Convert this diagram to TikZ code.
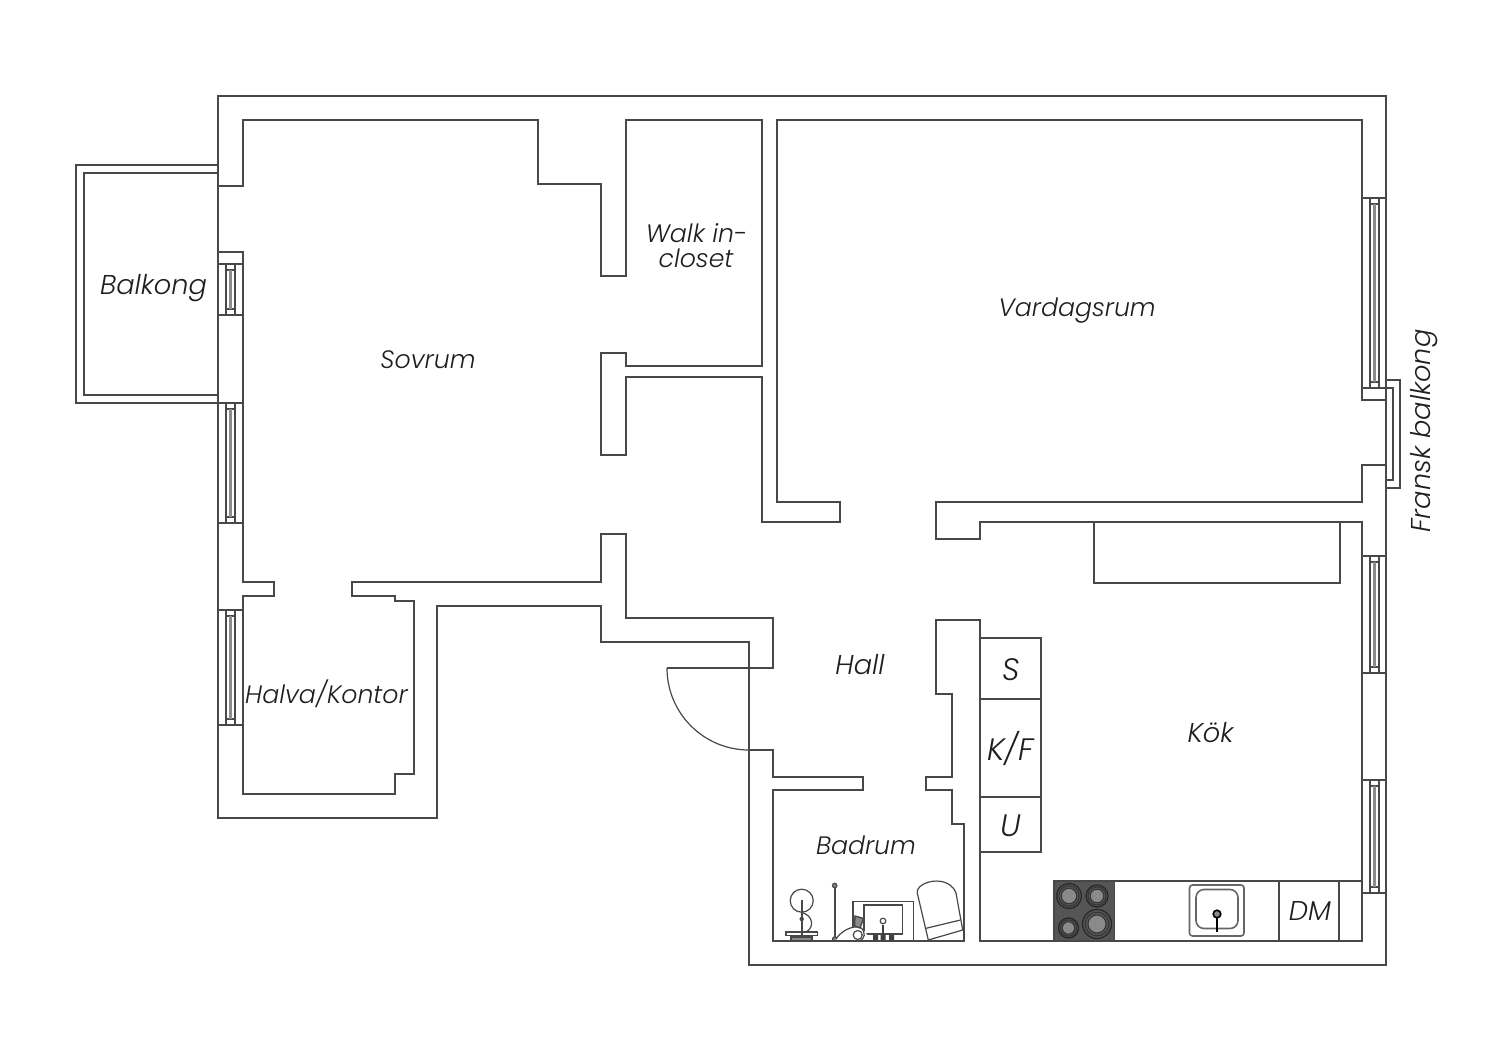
\documentclass[tikz,border=0pt]{standalone}
\usepackage{fontspec}
\setmainfont{Poppins}[ItalicFont=* Light Italic]
\definecolor{wallc}{HTML}{484848}
\definecolor{hobc}{HTML}{555555}
\definecolor{burnc}{HTML}{8A8A8A}
\definecolor{glassc}{HTML}{8C8C8C}
\tikzset{
  wall/.style={draw=wallc,line width=0.68pt,line join=miter},
  thin wall/.style={draw=wallc,line width=0.6pt},
  room/.style={text=black!88,font=\itshape\fontsize{12.6}{13}\selectfont,inner sep=0pt},
  room big/.style={room,font=\itshape\fontsize{13.6}{14}\selectfont},
  room large/.style={room,font=\itshape\fontsize{15.5}{16}\selectfont},
}
\newcommand\wndw[3]{%
  \draw[wall] (#1,#2) -- ++(24.5,0) (#1,#3) -- ++(24.5,0);
  \draw[thin wall] (#1+8,#2) -- (#1+8,#3) (#1+17,#2) -- (#1+17,#3)
     (#1+8,#2+6) -- (#1+17,#2+6) (#1+8,#3-6) -- (#1+17,#3-6);
  \fill[glassc] (#1+11,#2+6) rectangle (#1+14,#3-6);
}
\newcommand\burner[3]{%
  \draw[draw=black!85,fill=hobc,line width=0.6pt] (#1,#2) circle (#3);
  \draw[draw=black!80,line width=0.5pt] (#1,#2) circle (#3*0.82);
  \draw[draw=black!80,fill=burnc,line width=0.5pt] (#1,#2) circle (#3*0.62);
}
\begin{document}
\begin{tikzpicture}[x=0.5pt,y=-0.5pt]
\fill[white] (0,0) rectangle (1500,1060);
\useasboundingbox (0,0) rectangle (1500,1060);
% outer walls
\draw[wall] (218,96) -- (1386,96) -- (1386,965) -- (749,965) -- (749,642) -- (601,642) -- (601,606) -- (437,606) -- (437,818) -- (218,818) -- cycle;
% balcony
\draw[wall] (218,165) -- (76,165) -- (76,403) -- (218,403);
\draw[wall] (218,173) -- (84,173) -- (84,395) -- (218,395);
% inner walls
\draw[wall] (218,186) -- (243,186) -- (243,120) -- (538,120) -- (538,184) -- (601,184) -- (601,276) -- (626,276) -- (626,120) -- (762,120) -- (762,366) -- (626,366) -- (626,353) -- (601,353) -- (601,455) -- (626,455) -- (626,377) -- (762,377) -- (762,522) -- (840,522) -- (840,502) -- (777,502) -- (777,120) -- (1362,120) -- (1362,400) -- (1386,400);
\draw[wall] (1386,465) -- (1362,465) -- (1362,502) -- (936,502) -- (936,539) -- (980,539) -- (980,522) -- (1362,522) -- (1362,941) -- (980,941) -- (980,620) -- (936,620) -- (936,694) -- (952,694) -- (952,777) -- (926,777) -- (926,790) -- (952,790) -- (952,824) -- (964,824) -- (964,941) -- (773,941) -- (773,790) -- (863,790) -- (863,777) -- (773,777) -- (773,750) -- (749,750);
\draw[wall] (218,252) -- (243,252) -- (243,582) -- (274,582) -- (274,596) -- (243,596) -- (243,794) -- (395,794) -- (395,774) -- (414,774) -- (414,601) -- (395,601) -- (395,596) -- (352,596) -- (352,582) -- (601,582) -- (601,534) -- (626,534) -- (626,618) -- (773,618) -- (773,668) -- (667,668);
% door swing
\draw[thin wall] (667,668) arc[start angle=180,end angle=270,x radius=82,y radius=-82];
% windows
\wndw{218}{264}{315}
\wndw{218}{403}{523}
\wndw{218}{610}{725}
\wndw{1362}{198}{388}
\wndw{1362}{556}{673}
\wndw{1362}{780}{893}
% french balcony
\draw[wall] (1386,380) -- (1400,380) -- (1400,488) -- (1386,488);
\draw[wall] (1386,388) -- (1393,388) -- (1393,480) -- (1386,480);
% kitchen storage box
\draw[wall] (1094,522) -- (1094,583) -- (1340,583) -- (1340,522);
% cabinets
\draw[wall] (980,638) -- (1041,638) -- (1041,852) -- (980,852);
\draw[wall] (980,699) -- (1041,699) (980,797) -- (1041,797);
% counter
\draw[wall] (1054,881) -- (1362,881);
\draw[wall] (1279,881) -- (1279,941) (1339,881) -- (1339,941);
\fill[hobc] (1054,881) rectangle (1114.5,941);
\draw[wall] (1054,881) rectangle (1114.5,941);
\burner{1069}{896}{12.5}
\burner{1097}{896}{11}
\burner{1068.5}{928}{10}
\burner{1097}{924}{14.5}
% sink
\draw[draw=black!60,line width=0.8pt,rounded corners=1.5pt] (1189.5,885) rectangle (1244,936);
\draw[draw=black!60,line width=0.8pt,rounded corners=4pt] (1196,889.5) rectangle (1238,928.5);
\draw[black,line width=1pt] (1217,914) -- (1217,932);
\draw[draw=black,fill=burnc,line width=0.8pt] (1217,914) circle (3.8);
% bathroom: shower
\draw[thin wall] (801.7,900.7) circle (11.5);
\draw[draw=wallc,line width=1.2pt] (801.7,900) -- (801.7,941);
\draw[thin wall] (802,912.5) .. controls (814,916) and (814,928) .. (806,932);
\fill[wallc] (801.7,919) circle (2.2);
\draw[thin wall] (786,932) rectangle (817.5,935.5);
\draw[thin wall,fill=burnc] (791,937) rectangle (812,941);
% bathroom: pole
\draw[draw=wallc,line width=0.8pt] (834.7,885) -- (834.7,939);
\draw[draw=wallc,fill=burnc,line width=0.6pt] (834.7,885.5) circle (2.2);
\draw[draw=wallc,fill=burnc,line width=0.6pt] (834.7,939) circle (2.2);
% bathroom: basin cabinet
\draw[thin wall] (853,941) -- (853,901.7) -- (913.5,901.7) -- (913.5,941);
\draw[thin wall] (864,905) rectangle (902.7,934);
\draw[draw=white,fill=white] (836,941) .. controls (842,930) and (852,926) .. (860,927) -- (867,935) -- (864,941) -- cycle;
\draw[thin wall] (836,939) .. controls (842,930) and (852,926) .. (860,927) .. controls (866,931) and (866,940) .. (858,941) -- (840,941);
\draw[thin wall] (857.7,935) circle (4.5);
\draw[draw=wallc,fill=burnc,line width=0.7pt] (855,916) -- (863.5,918.5) -- (860,928) -- (854.5,926) -- cycle;
\draw[draw=black!75,line width=1.2pt] (883,925) -- (883,940);
\draw[draw=wallc,fill=white,line width=0.6pt] (883,921) circle (2.8);
\fill[black!75] (873,934.5) rectangle (878,940.5) (880.5,934.5) rectangle (885.5,940.5) (889,934.5) rectangle (894,940.5);
% bathroom: rounded unit
\draw[thin wall] (928.3,940) -- (917.3,893.3) .. controls (915,884) and (937,876) .. (950,885) .. controls (953,887) and (955,890) .. (956,893) -- (962.7,930) -- cycle;
\draw[thin wall] (926,928.3) -- (960.5,920);
\draw[wall] (773,941) -- (964,941);
% labels
\node[room big] (balkong) at (153.5,288) {Balkong};
\node[room] (sovrum) at (428,360) {Sovrum};
\node[room] (walk) at (696.5,233) {Walk in-};
\node[room] (closet) at (696,258) {closet};
\node[room] (vardag) at (1077,310.5) {Vardagsrum};
\node[room big] (hall) at (860,665) {Hall};
\node[room] (halva) at (326.5,694) {Halva/Kontor};
\node[room large] (s) at (1011,669.5) {S};
\node[room large] (kf) at (1010.5,748.5) {K/F};
\node[room large] (u) at (1011,826) {U};
\node[room big] (kok) at (1210.5,733) {Kök};
\node[room] (badrum) at (866,845) {Badrum};
\node[room big] (dm) at (1310,910.5) {DM};
\node[room big,rotate=90] (fransk) at (1424,431) {Fransk balkong};
\end{tikzpicture}
\end{document}
